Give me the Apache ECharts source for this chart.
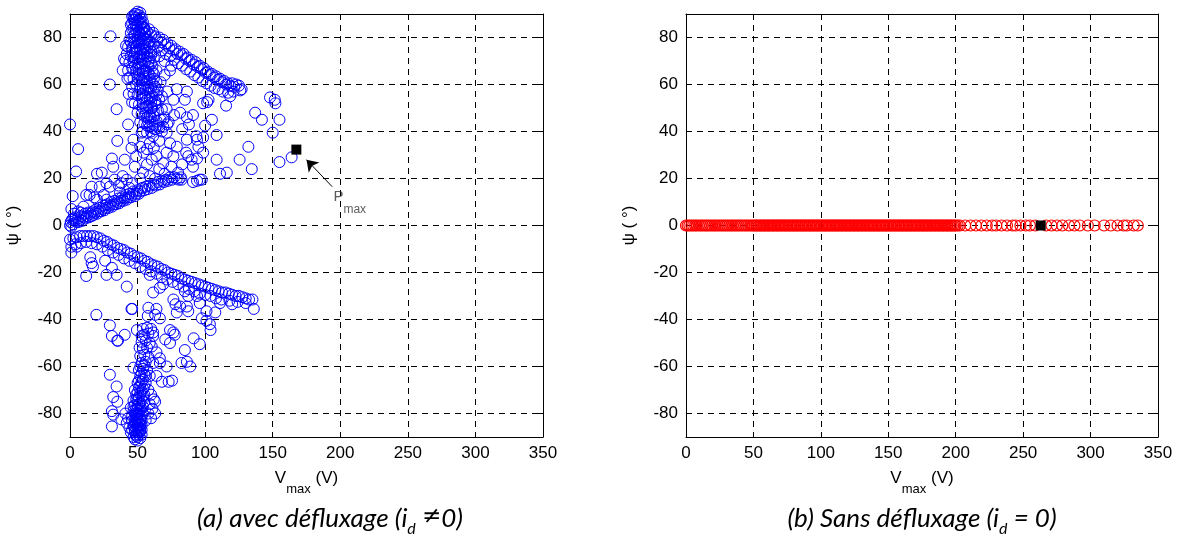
<!DOCTYPE html>
<html><head><meta charset="utf-8">
<script src="https://cdn.jsdelivr.net/npm/echarts@6/dist/echarts.min.js"></script>
<style>html,body{margin:0;padding:0;background:#fff;}#c{width:1180px;height:538px;}</style>
</head><body><div id="c"></div>
<script>
// ---- tick labels ----
const vTicks = [0, 50, 100, 150, 200, 250, 300, 350];
const psiTicks = [-80, -60, -40, -20, 0, 20, 40, 60, 80];

// ---- (a) avec défluxage : [Vmax (V), psi (deg)] ----
const avecRisingBand = [[0,0],[0.5,1.5],[1,-0.5],[1.5,2.5],[2.5,0.5],[3.5,2],[4,3.5],[5,1.5],[6,3],[6.5,1.5],[7.5,2.5],[8.5,4],[9,2],[10,3.5],[11,5],[11.5,3],[12.5,4],[13.5,5.5],[14,3.5],[15,5],[16,4],[17,6],[17.5,4.5],[18.5,5.5],[19.5,7],[20,5],[21,6],[22,7.5],[23,6],[24,7],[25,8.5],[25.5,6.5],[26.5,7.5],[27.5,9],[28.5,7.5],[29.5,8.5],[30.5,10],[31,8],[32,9],[33,10.5],[34,9],[35,10],[36,11.5],[36.5,9.5],[37.5,10.5],[38.5,12],[39.5,10.5],[40.5,11.5],[41.5,13],[42,11],[43,12],[44,13.5],[45,12],[46,13],[47,14.5],[48,12.5],[49,13.5],[50,15],[51,13.5],[52,14.5],[53.5,16],[55,15],[56,16.5],[57.5,15.5],[59,17],[60.5,16],[62,17.5],[63.5,17],[65,18.5],[66.5,17.5],[68,19],[69.5,18.5],[71,19.5],[72.5,19],[74,20.5],[75.5,19.5],[77,20.5],[79,20],[80.5,19.5],[82,20.5]];
const avecRisingScatter = [[0,43],[6,32.5],[4.5,23],[2,12.5],[1,7],[3,5],[2.5,3],[6,6],[8,5.5],[10,8],[12,13],[14.5,13],[16,16.5],[18,12],[20,11],[22,16.5],[23.5,22.5],[25,13],[27,18],[29.5,16.5],[31,28.5],[32,25],[33,19.5],[35,36],[36,17],[38,18],[39,21],[40.5,28],[42,19.5],[43,43],[44,16],[45.5,33],[47,36.5],[48,25],[49,29.5],[30,80.5],[29.5,60],[34.5,49.5],[20,22],[27,11],[37,14],[46,18],[52,20]];
const avecUpperCore = [[47,89],[49,90],[51,89.5],[48,87.5],[50,87],[52,88],[46,86],[49,85],[53,86],[47,84],[51,83],[54,84.5],[45,82],[48,81],[52,81.5],[55,82],[44,79],[47,78],[50,79],[53,78.5],[56,79],[43,76],[46,75.5],[49,76],[52,75],[55,76.5],[58,77],[42,73],[45,72],[48,73.5],[51,72],[54,73],[57,73.5],[60,74],[41,70],[44,69.5],[47,70],[50,69],[53,70.5],[56,70],[59,71],[62,71.5],[43,66],[46,67],[49,66.5],[52,67],[55,66],[58,67.5],[61,68],[44,63],[47,62.5],[50,63],[53,62],[56,63.5],[59,64],[62,64.5],[46,59],[49,60],[52,59.5],[55,60],[58,59],[61,60.5],[64,61],[47,56],[50,55.5],[53,56],[56,55],[59,56.5],[62,57],[65,57.5],[48,52],[51,51.5],[54,52],[57,51],[60,52.5],[63,53],[66,53.5],[50,48],[53,47.5],[56,48],[59,47],[62,48.5],[65,49],[68,49.5],[52,44],[55,43.5],[58,44],[61,43],[64,44.5],[67,45],[70,46],[54,40],[57,39.5],[60,40],[63,41],[66,41.5],[69,42],[72,43],[41.5,76.5],[40,71],[39,66],[42.5,62.5],[43.5,56],[46,52.5]];
const avecUpperDense = [[48,90],[50,91],[46,89],[52,90.5],[47,87.5],[49,88.5],[51,87],[53,88.5],[45,85.5],[48,86],[50,85],[52,85.5],[54,86.5],[46,83.5],[49,83],[51,82],[53,83.5],[55,84],[47,80.5],[50,80],[52,79.5],[54,80.5],[56,81.5],[45,78],[48,77.5],[51,78],[53,77],[55,78],[57,79],[46,74.5],[49,74],[52,74.5],[54,75],[56,75.5],[59,76],[47,71.5],[50,71],[52,72],[55,72.5],[57,72],[60,72.5],[48,68],[51,68.5],[53,69],[55,69],[58,69.5],[60,69],[49,65],[51,64.5],[54,65.5],[56,66],[58,65],[61,65.5],[50,61.5],[53,62],[55,62.5],[57,61],[59,62],[62,62.5],[52,58],[54,58.5],[56,57.5],[58,58],[60,58.5],[63,59],[53,54],[55,54.5],[57,53.5],[59,54],[61,55],[64,55.5],[54,50],[56,50.5],[58,51],[61,50],[63,51.5],[55,46.5],[58,45.5],[60,46],[62,46.5],[57,42.5],[59,42],[61,41.5]];
const avecUpperBand = [[55,84],[57,82.5],[58.5,83.5],[60,81],[61.5,82],[63,80.5],[64.5,79],[66,80],[67.5,78],[69,79],[70.5,77],[72,77.5],[73.5,75.5],[75,76.5],[76.5,74.5],[78,75],[79.5,73],[81,74],[82.5,72.5],[84,73],[85.5,71],[87,71.5],[88.5,70],[90,70.5],[91.5,68.5],[93,69.5],[94.5,67.5],[96,68],[97.5,66.5],[99,67],[100.5,65],[102,65.5],[103.5,64],[105,64.5],[106.5,63],[108,63.5],[109.5,62],[111,62.5],[112.5,61],[114,61.5],[115.5,60],[117,60.5],[118.5,59.5],[120,60.5],[121.5,59],[123,60],[125,59.5],[127,58],[59,78.5],[62,77],[65,76],[68,74.5],[71,73],[74,72],[77,70.5],[80,69],[83,68],[86,66.5],[89,65.5],[92,64],[95,63],[98,61.5],[101,60.5],[104,59.5],[107,58.5],[110,58],[113,57],[117,56.5],[121,57],[126,57.5],[62,74],[66,72],[70,70],[75,68]];
const avecUpperScatter = [[54,22.5],[57,26],[60.5,28],[64,29.5],[69,26.5],[71.5,31],[74,35],[71.5,39.5],[76.5,29.5],[79,33.5],[80,22.5],[82.5,19.5],[86.5,36.5],[87.5,29.5],[90,28],[91,25],[94,36.5],[95,33.5],[98.5,31],[97.5,19.5],[94,19],[86.5,46],[81.5,48],[85,53.5],[86.5,57],[79,58],[76.5,53.5],[71.5,49.5],[69,45],[64,42.5],[61.5,38],[59,35],[57,32.5],[54.5,31],[52,33.5],[53,39.5],[98.5,52],[102.5,53.5],[105,45],[108.5,38.5],[108.5,28],[100,42.5],[115.5,51],[118.5,55],[111,22],[116,22.5],[125.5,28],[132,33.5],[134.5,24],[137,48],[142,45],[148,54.5],[151.5,53.5],[152,52],[155,45],[150,39.5],[155,27],[164,29],[98.5,37.5],[94,28.5],[96,19.5],[91,18.5],[93.5,38],[101.5,52.5],[62,33],[66,36],[68,40],[73,44],[77,47],[83,41],[88,43],[91,47],[66,24],[59,21],[63,20],[70,22],[75,25],[83,26],[86,31],[57,46],[60,50],[64,52],[68,55],[72,57],[67,61],[70,64],[74,66],[64,66]];
const avecLowerBand = [[0,-6],[2.5,-5.5],[5,-5],[7.5,-4.5],[10,-4.5],[12.5,-4.5],[15,-4.5],[17.5,-4.5],[20,-5],[22.5,-5.5],[25,-6.5],[27.5,-7],[30,-8],[32.5,-8.5],[35,-9.5],[37.5,-10],[40,-10.5],[42.5,-11.5],[45,-12],[47.5,-13],[50,-13.5],[52.5,-14],[55,-15],[57.5,-15.5],[60,-16.5],[62.5,-17],[65,-17.5],[67.5,-18.5],[70,-19],[72.5,-20],[75,-20.5],[77.5,-21],[80,-21.5],[82.5,-22.5],[85,-23],[87.5,-23.5],[90,-24],[92.5,-24.5],[95,-25],[97.5,-25.5],[100,-26],[102.5,-26.5],[105,-27],[107.5,-27.5],[110,-28],[112.5,-28.5],[115,-28.5],[117.5,-29],[120,-29.5],[122.5,-30],[125,-30],[127.5,-30.5],[130,-31],[132.5,-31.5],[135,-31.5],[1,-9],[4,-8],[8,-7.5],[12,-7],[16,-7.5],[20,-8],[24,-9],[28,-10.5],[32,-11.5],[36,-12.5],[40,-14],[44,-15],[48,-16],[52,-17.5],[56,-18.5],[60,-19.5],[64,-20.5],[68,-22],[72,-23],[76,-24],[80,-25],[84,-26],[88,-27],[92,-28],[96,-29],[100,-29.5],[104,-30],[108,-31],[112,-31.5],[118,-32],[124,-32.5],[130,-33],[136,-35.5]];
const avecLowerScatter = [[1,-11.5],[5,-9],[12,-21.5],[15,-13.5],[16,-16],[17,-17.5],[26,-15],[27,-21],[31,-18],[34.5,-21],[42,-26],[45.5,-35.5],[19.5,-38],[29.5,-42.5],[31,-47],[35,-49],[40.5,-46.5],[59,-21],[61.5,-28.5],[66.5,-26.5],[69,-25],[58,-35],[63,-38],[66.5,-39.5],[57.5,-38.5],[64,-35.5],[76.5,-31.5],[78,-33.5],[81.5,-34.5],[85,-28],[86.5,-34.5],[87.5,-30],[94,-30],[96,-33],[79,-37],[87.5,-36.5],[101,-36.5],[107.5,-37],[111,-33],[120,-33.5],[101,-40.5],[103.5,-42],[104,-44.5],[74,-44.5],[76.5,-45.5],[77.5,-46.5],[74,-50],[70.5,-48.5],[85,-53],[86.5,-58],[89,-60],[91.5,-48],[96,-50.5],[97.5,-39.5],[49.5,-44.5],[61.5,-45.5],[60.5,-51.5],[64,-54],[61.5,-58.5],[66.5,-58.5],[59,-64],[64,-64],[68,-66.5],[73,-66.5],[75.5,-66],[71.5,-60],[66.5,-56.5],[82.5,-58.5],[63,-75],[29.5,-63.5],[34.5,-68.5],[32,-73],[35,-75],[31,-79],[32,-80.5],[31,-85.5],[38,-82.5],[47,-60.5],[51.5,-52],[46,-35.5],[53,-47],[61.5,-47],[35.5,-49]];
const avecLowerCore = [[50,-90],[49,-89],[51,-88],[48,-87],[50,-86],[52,-86.5],[47,-85],[49,-84],[51,-84.5],[53,-85],[48,-83],[50,-82],[52,-82.5],[46,-81],[49,-80.5],[51,-80],[53,-81],[47,-79],[50,-78],[52,-78.5],[45,-77.5],[48,-76.5],[51,-76],[54,-77],[47,-74.5],[50,-74],[53,-74.5],[49,-72],[52,-71.5],[55,-72],[48,-70],[51,-69],[54,-69.5],[50,-67],[53,-66.5],[56,-67],[52,-64],[55,-63.5],[51,-61.5],[54,-61],[57,-61.5],[53,-58.5],[56,-58],[52,-55.5],[55,-55],[58,-56],[54,-52.5],[57,-52],[53,-49.5],[56,-49],[59,-50],[55,-46.5],[58,-46],[54,-44],[57,-43.5],[60,-44],[58,-70],[60,-72],[62,-74],[59,-76],[61,-78],[63,-80],[58,-80],[56,-83],[60,-82],[42,-84],[44,-86],[43,-82],[45,-88],[41,-80]];
const avecLowerDense = [[48,-91],[50,-91.5],[52,-90.5],[47,-90],[49,-89.5],[51,-89],[53,-89],[48,-88],[50,-88],[52,-87.5],[46,-87],[49,-86.5],[51,-86],[53,-87],[47,-85.5],[50,-85],[52,-84.5],[48,-84],[51,-83.5],[53,-83],[46,-83],[49,-82],[52,-81.5],[50,-80.5],[48,-80],[54,-80],[51,-79],[49,-78],[53,-78],[47,-77],[50,-76.5],[52,-75.5],[55,-75],[49,-74],[51,-73],[54,-72.5],[50,-71],[53,-70.5],[52,-68],[55,-68.5],[51,-66],[54,-65.5],[53,-63],[56,-64],[52,-60],[55,-59.5]];
const avecPmax = [167.5, 32.3];

// ---- (b) sans défluxage : Vmax (V) values, all at psi = 0 ----
const sansVmax = [0,1.2,2.5,4,5.3,6.8,8,9.6,11,12.3,13.9,15.2,16.5,18,19.4,20.9,22.1,23.6,25,26.4,27.8,29.3,30.6,32,33.5,34.8,36.3,37.6,39,40.5,41.8,43.3,44.6,46,47.5,48.8,
50,51,52.1,53,54.2,55.1,56,57.2,58.1,59,60.2,61.1,62,63.1,64.2,65,66.1,67.2,68,69.1,70.2,71,72.1,73.2,74,75.1,76.2,77,78.1,79.2,80,81.1,82.2,83,84.1,85.2,86,87.1,88.2,89,90.1,91.2,92,93.1,94.2,95,96.1,97.2,98,99.1,100.2,101,102.1,103.2,104,105.1,106.2,107,108.1,109.2,110,111.1,112.2,113,114.1,115.2,116,117.1,118.2,119,120.1,121.2,122,123.1,124.2,125,126.1,127.2,128,129.1,130.2,131,132.1,133.2,134,135.1,136.2,137,138.1,139.2,140,141.1,142.2,143,144.1,145.2,146,147.1,148.2,149,150.1,151.2,152,153.1,154.2,155,156.1,157.2,158,159.1,160.2,161,162.1,163.2,164,165.1,166.2,167,168.1,169.2,170,171.1,172.2,173,174.1,175.2,176,177.1,178.2,179,180.1,181.2,182,183.1,184.2,185,186.1,187.2,188,189.1,190.2,191,192.1,193.2,194,195.1,196.2,197,198.1,199.2,200,201.5,203,
207,211,215,219,223,227,230,234,238,242,244.5,248,252,255,259,267,271,275,279,284,288,292,298,303,310,315,320,324.5,327,332,335];
const sansPsi = 0;
const sansPmax = [263, 0];

// ---- annotation (data units) ----
const pmaxArrowFrom = [194, 16.5];
const pmaxArrowTo = [175, 28];
const pmaxLabelAt = [207, 9.8];

const chart = echarts.init(document.getElementById('c'), null, {renderer: 'canvas'});
const FONT = "'Liberation Sans', Arial, sans-serif";
const CAPFONT = "Lato, 'Open Sans', sans-serif";
const black = '#000';

function xAx(gridIndex, pos) {
  const main = pos === 'bottom';
  return {
    type: 'value', gridIndex, position: pos, min: vTicks[0], max: vTicks[vTicks.length - 1], interval: 50,
    axisLine: {show: true, onZero: false, lineStyle: {color: black, width: 1}},
    axisTick: {show: true, inside: true, length: 5, lineStyle: {color: black}},
    axisLabel: {show: main, color: black, fontSize: 17, fontFamily: FONT, margin: 8},
    splitLine: {show: main, lineStyle: {color: black, type: [6, 5], width: 1}},
    name: main ? '{v|V}{s|max}{v| (V)}' : '',
    nameLocation: 'middle', nameGap: 33,
    nameTextStyle: {
      color: black, fontFamily: FONT,
      rich: {
        v: {fontSize: 17, fontFamily: FONT, color: black, lineHeight: 20, verticalAlign: 'top'},
        s: {fontSize: 13, fontFamily: FONT, color: black, lineHeight: 26, verticalAlign: 'bottom'}
      }
    }
  };
}
function yAx(gridIndex, pos) {
  const main = pos === 'left';
  return {
    type: 'value', gridIndex, position: pos, min: -90, max: 90,
    axisLine: {show: true, onZero: false, lineStyle: {color: black, width: 1}},
    axisTick: {show: true, inside: true, length: 5, customValues: psiTicks, lineStyle: {color: black}},
    axisLabel: {show: main, customValues: psiTicks, color: black, fontSize: 17, fontFamily: FONT, margin: 8},
    splitLine: {show: main, lineStyle: {color: black, type: [6, 5], width: 1}},
    name: main ? 'ψ ( °)' : '',
    nameLocation: 'middle', nameRotate: 90, nameGap: 48,
    nameTextStyle: {color: black, fontSize: 17, fontFamily: FONT}
  };
}

const circleBlue = {color: 'rgba(0,0,0,0)', borderColor: '#0000ff', borderWidth: 1, opacity: 1};
const circleRed = {color: 'rgba(0,0,0,0)', borderColor: '#ff0000', borderWidth: 1.2, opacity: 1};
const avecAll = [].concat(avecRisingBand, avecRisingScatter, avecUpperCore, avecUpperDense, avecUpperBand,
  avecUpperScatter, avecLowerBand, avecLowerScatter, avecLowerCore, avecLowerDense);

const capRich = {
  t: {fontSize: 26, fontStyle: 'italic', fontFamily: CAPFONT, fill: '#000', lineHeight: 28, verticalAlign: 'top'},
  n: {fontSize: 23, fontStyle: 'italic', fontFamily: "'DejaVu Sans', sans-serif", fill: '#000', lineHeight: 28, verticalAlign: 'top'},
  d: {fontSize: 16, fontStyle: 'italic', fontFamily: CAPFONT, fill: '#000', lineHeight: 31, verticalAlign: 'bottom'}
};

const option = {
  animation: false,
  backgroundColor: '#fff',
  grid: [
    {left: 70, right: 637, top: 14, bottom: 101, containLabel: false},
    {left: 686, right: 22, top: 14, bottom: 101, containLabel: false}
  ],
  xAxis: [xAx(0, 'bottom'), xAx(0, 'top'), xAx(1, 'bottom'), xAx(1, 'top')],
  yAxis: [yAx(0, 'left'), yAx(0, 'right'), yAx(1, 'left'), yAx(1, 'right')],
  series: [
    {type: 'scatter', xAxisIndex: 0, yAxisIndex: 0, symbol: 'circle', symbolSize: 11,
     itemStyle: circleBlue, data: avecAll, clip: false, silent: true, z: 2},
    {type: 'scatter', xAxisIndex: 0, yAxisIndex: 0, symbol: 'rect', symbolSize: 10,
     itemStyle: {color: black, opacity: 1}, data: [avecPmax], clip: false, silent: true, z: 4,
     markLine: {
       silent: true, animation: false, symbolSize: 11,
       lineStyle: {color: black, width: 1, type: 'solid', opacity: 1},
       label: {show: false},
       data: [[{coord: pmaxArrowFrom, symbol: 'none'}, {coord: pmaxArrowTo, symbol: 'arrow'}]]
     }},
    {type: 'scatter', xAxisIndex: 0, yAxisIndex: 0, symbolSize: 0, data: [pmaxLabelAt], silent: true, z: 5,
     label: {show: true, position: 'inside', formatter: '{p|P}{s|max}',
       rich: {
         p: {fontSize: 15, fontFamily: FONT, color: '#333', lineHeight: 18, verticalAlign: 'top'},
         s: {fontSize: 12, fontFamily: FONT, color: '#333', lineHeight: 26, verticalAlign: 'bottom'}
       }}},
    {type: 'scatter', xAxisIndex: 2, yAxisIndex: 2, symbol: 'circle', symbolSize: 11,
     itemStyle: circleRed, data: sansVmax.map(v => [v, sansPsi]), clip: false, silent: true, z: 2},
    {type: 'scatter', xAxisIndex: 2, yAxisIndex: 2, symbol: 'rect', symbolSize: 10,
     itemStyle: {color: black, opacity: 1}, data: [sansPmax], clip: false, silent: true, z: 4}
  ],
  graphic: [
    {type: 'text', x: 330, y: 521, silent: true,
     style: {text: '{t|(a) avec défluxage (i}{d|d}{t| }{n|≠}{t|0)}', align: 'center', verticalAlign: 'middle', rich: capRich}},
    {type: 'text', x: 922, y: 521, silent: true,
     style: {text: '{t|(b) Sans défluxage (i}{d|d}{t| = 0)}', align: 'center', verticalAlign: 'middle', rich: capRich}}
  ]
};
chart.setOption(option);
</script>
</body></html>
